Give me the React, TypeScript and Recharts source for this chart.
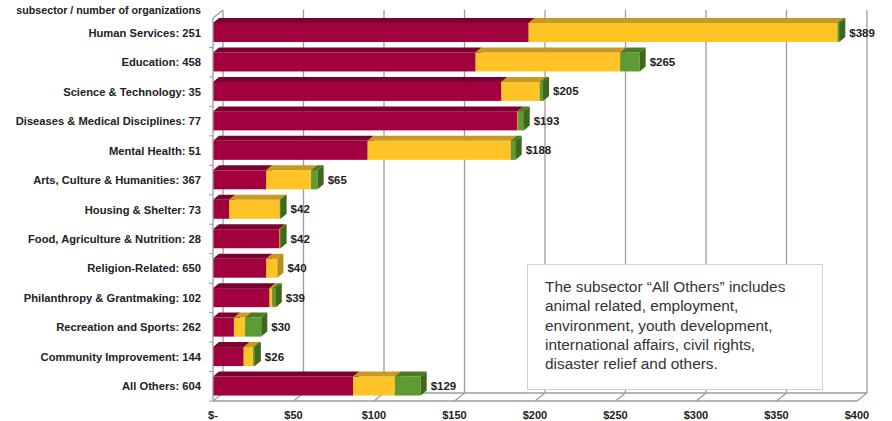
import { BarChart, Bar, XAxis, YAxis, CartesianGrid, LabelList } from 'recharts';

const categories = [
  'Human Services: 251',
  'Education: 458',
  'Science & Technology: 35',
  'Diseases & Medical Disciplines: 77',
  'Mental Health: 51',
  'Arts, Culture & Humanities: 367',
  'Housing & Shelter: 73',
  'Food, Agriculture & Nutrition: 28',
  'Religion-Related: 650',
  'Philanthropy & Grantmaking: 102',
  'Recreation and Sports: 262',
  'Community Improvement: 144',
  'All Others: 604',
];
const crimsonValues = [196, 163, 179, 189, 96, 33, 10, 41, 33, 35, 13, 19, 87];
const goldValues = [192, 90, 24, 0.5, 89, 28, 31.5, 0.5, 7, 2, 7, 6, 26];
const greenValues = [1, 12, 2, 3.5, 3, 4, 0.5, 0.5, 0, 2, 10, 1, 16];
const totals = [389, 265, 205, 193, 188, 65, 42, 42, 40, 39, 30, 26, 129];
const xTicks = [0, 50, 100, 150, 200, 250, 300, 350, 400];

const W = 892;
const H = 421;
const MARGIN = { top: 18, right: 35, bottom: 0, left: 0 };
const Y_AXIS_W = 213;
const PLOT_W = W - MARGIN.right - Y_AXIS_W;
const BAND = (H - MARGIN.top - 20) / categories.length;

// wall depth (grid) and bar depth
const GDX = 10;
const GDY = 8;
const BDX = 6;
const BDY = 5;
const GRID = '#9c9c9c';
const FONT = '"Liberation Sans", Arial, sans-serif';

const data = categories.map((name, i) => ({
  name,
  crimson: crimsonValues[i],
  gold: goldValues[i],
  green: greenValues[i],
  total: totals[i],
}));

type Face = { front: string; top: string; side: string };

const makeShape = (c: Face) => (props: any) => {
  const { x, y, width, height } = props;
  if (!width || width <= 0) return <g />;
  return (
    <g>
      <rect x={x} y={y} width={width} height={height} fill={c.front} />
      <polygon
        points={`${x},${y} ${x + BDX},${y - BDY} ${x + width + BDX},${y - BDY} ${x + width},${y}`}
        fill={c.top}
      />
      <polygon
        points={`${x + width},${y} ${x + width + BDX},${y - BDY} ${x + width + BDX},${y + height - BDY} ${x + width},${y + height}`}
        fill={c.side}
      />
    </g>
  );
};

const crimsonShape = makeShape({ front: '#a3003f', top: '#7a002f', side: '#6c0029' });
const goldShape = makeShape({ front: '#fec425', top: '#c99a21', side: '#b98c1b' });
const greenShape = makeShape({ front: '#5e9b32', top: '#4a7c26', side: '#3c691d' });

const gridLine = (props: any) => {
  const { x1, y1, x2, y2, index } = props;
  return (
    <g key={`v-${index}`}>
      <line x1={x1 + GDX} y1={y1 - GDY} x2={x2 + GDX} y2={y2 - GDY} stroke={GRID} strokeWidth={1.3} />
      <line x1={x2} y1={y2} x2={x2 + GDX} y2={y2 - GDY} stroke={GRID} strokeWidth={1.3} />
      {index === 0 && (
        <>
          <line x1={x1} y1={y1} x2={x1 + GDX} y2={y1 - GDY} stroke={GRID} strokeWidth={1.3} />
          <line x1={x2 + GDX} y1={y2 - GDY} x2={x2 + GDX + PLOT_W} y2={y2 - GDY} stroke={GRID} strokeWidth={1.3} />
        </>
      )}
    </g>
  );
};

const YTick = (props: any) => {
  const { y, payload } = props;
  return (
    <g>
      <line x1={Y_AXIS_W - 4} y1={y + BAND / 2} x2={Y_AXIS_W} y2={y + BAND / 2} stroke={GRID} />
      <text x={Y_AXIS_W - 12} y={y} dy={4} textAnchor="end" fontFamily={FONT} fontWeight="bold" fontSize={11.2} fill="#222">
        {payload.value}
      </text>
    </g>
  );
};

const XTick = (props: any) => {
  const { x, y, payload } = props;
  return (
    <text x={x} y={y} dy={10} textAnchor="middle" fontFamily={FONT} fontWeight="bold" fontSize={11} fill="#222">
      {payload.value === 0 ? '$-' : `$${payload.value}`}
    </text>
  );
};

const TotalLabel = (props: any) => {
  const { x, y, width, height, value } = props;
  return (
    <text
      x={x + width + 10}
      y={y + height / 2}
      dy={4}
      fontFamily={FONT}
      fontWeight="bold"
      fontSize={11.5}
      fill="#222"
    >
      {`$${value}`}
    </text>
  );
};

export default function App() {
  return (
    <div style={{ position: 'fixed', left: 0, top: 0, width: W, height: H, background: '#fff' }}>
      <div
        style={{
          position: 'absolute',
          left: 0,
          top: 4,
          width: 201,
          textAlign: 'right',
          fontFamily: FONT,
          fontWeight: 'bold',
          fontSize: 10.7,
          lineHeight: '12px',
          color: '#222',
          whiteSpace: 'nowrap',
        }}
      >
        subsector / number of organizations
      </div>
      <BarChart width={W} height={H} data={data} layout="vertical" margin={MARGIN} barSize={19}>
        <CartesianGrid horizontal={false} vertical={gridLine} />
        <XAxis
          type="number"
          domain={[0, 400]}
          ticks={xTicks}
          interval={0}
          height={20}
          axisLine={{ stroke: GRID, strokeWidth: 1.3 }}
          tickLine={false}
          tick={<XTick />}
        />
        <YAxis
          type="category"
          dataKey="name"
          width={Y_AXIS_W}
          axisLine={{ stroke: GRID, strokeWidth: 1.3 }}
          tickLine={false}
          tick={<YTick />}
          interval={0}
        />
        <Bar dataKey="crimson" stackId="a" shape={crimsonShape} isAnimationActive={false} />
        <Bar dataKey="gold" stackId="a" shape={goldShape} isAnimationActive={false} />
        <Bar dataKey="green" stackId="a" shape={greenShape} isAnimationActive={false}>
          <LabelList dataKey="total" content={<TotalLabel />} />
        </Bar>
      </BarChart>
      <div
        style={{
          position: 'absolute',
          left: 527,
          top: 264,
          width: 296,
          height: 126,
          boxSizing: 'border-box',
          border: '1px solid #cfcfcf',
          background: '#fff',
          padding: '12px 0 0 17px',
          fontFamily: FONT,
          fontSize: 15.4,
          lineHeight: '19.3px',
          color: '#333',
          whiteSpace: 'nowrap',
        }}
      >
        The subsector “All Others” includes
        <br />
        animal related, employment,
        <br />
        environment, youth development,
        <br />
        international affairs, civil rights,
        <br />
        disaster relief and others.
      </div>
    </div>
  );
}
